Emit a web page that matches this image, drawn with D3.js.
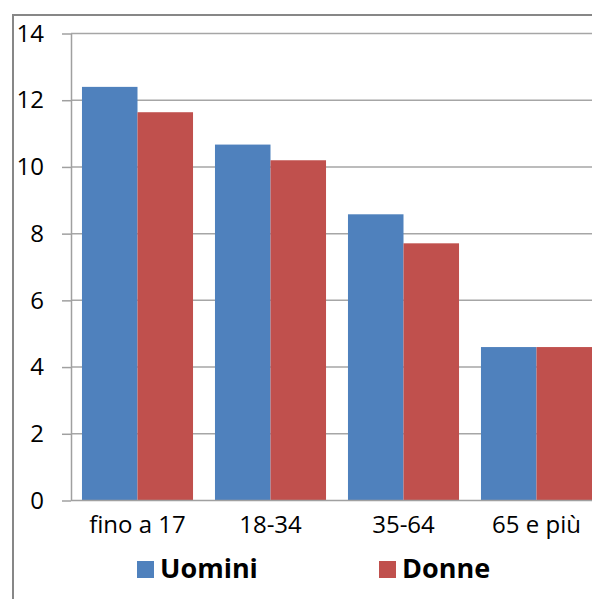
<!DOCTYPE html>
<html>
<head>
<meta charset="utf-8">
<script src="https://cdn.jsdelivr.net/npm/d3@7"></script>
<style>
  body { margin: 0; background: #fff; }
  svg { display: block; font-family: "Open Sans", sans-serif; }
</style>
</head>
<body>
<div id="chart"></div>
<script>
const categories = ["fino a 17", "18-34", "35-64", "65 e più"];
const seriesNames = ["Uomini", "Donne"];
const uomini = [12.4, 10.67, 8.58, 4.6];
const donne = [11.64, 10.2, 7.71, 4.6];
const yTicks = [0, 2, 4, 6, 8, 10, 12, 14];

const colors = { Uomini: "#4f81bd", Donne: "#c0504d" };

const W = 592, H = 599;
const plot = { left: 71, top: 33.5, width: 532, height: 467 };

const svg = d3.select("#chart")
  .append("svg")
  .attr("width", W)
  .attr("height", H);

// chart border (cut off at right and bottom)
svg.append("rect")
  .attr("x", 13).attr("y", 15)
  .attr("width", 640).attr("height", 640)
  .attr("fill", "none")
  .attr("stroke", "#878787")
  .attr("stroke-width", 2);

const g = svg.append("g")
  .attr("transform", `translate(${plot.left},${plot.top})`);

const x = d3.scaleBand()
  .domain(categories)
  .range([0, plot.width])
  .paddingInner(0.165)
  .paddingOuter(0.0825);

const xs = d3.scaleBand()
  .domain(seriesNames)
  .range([0, x.bandwidth()]);

const y = d3.scaleLinear()
  .domain([0, 14])
  .range([plot.height, 0]);

// gridlines
g.append("g")
  .selectAll("line")
  .data(yTicks.slice(1))
  .join("line")
  .attr("x1", 0).attr("x2", plot.width + 20)
  .attr("y1", d => y(d)).attr("y2", d => y(d))
  .attr("stroke", "#a6a6a6")
  .attr("stroke-width", 1.5);

// y axis
const yAxis = g.append("g")
  .call(d3.axisLeft(y).tickValues(yTicks).tickSize(9).tickPadding(18).tickSizeOuter(0));
yAxis.select(".domain").attr("stroke", "#a0a0a0").attr("stroke-width", 1.5);
yAxis.selectAll(".tick line").attr("stroke", "#a0a0a0").attr("stroke-width", 1.5);
yAxis.selectAll("text")
  .attr("font-size", 24)
  .attr("fill", "#000")
  .attr("font-family", "Open Sans, sans-serif");

const rows = categories.map((c, i) => ({ cat: c, Uomini: uomini[i], Donne: donne[i] }));

// bars
g.append("g")
  .selectAll("g")
  .data(rows)
  .join("g")
  .attr("transform", d => `translate(${x(d.cat)},0)`)
  .selectAll("rect")
  .data(d => seriesNames.map(s => ({ key: s, value: d[s] })))
  .join("rect")
  .attr("x", d => xs(d.key))
  .attr("y", d => y(d.value))
  .attr("width", xs.bandwidth())
  .attr("height", d => plot.height - y(d.value))
  .attr("fill", d => colors[d.key]);

// x axis
const xAxis = g.append("g")
  .attr("transform", `translate(0,${plot.height})`)
  .call(d3.axisBottom(x).tickSize(0).tickPadding(15));
xAxis.select(".domain")
  .attr("d", `M0,0H${plot.width + 20}`)
  .attr("stroke", "#a0a0a0").attr("stroke-width", 1.5);
xAxis.selectAll("text")
  .attr("font-size", 24)
  .attr("fill", "#000")
  .attr("font-family", "Open Sans, sans-serif");

// legend
const legendItems = [
  { name: "Uomini", x: 137 },
  { name: "Donne", x: 379 }
];
const legend = svg.append("g");
const li = legend.selectAll("g")
  .data(legendItems)
  .join("g")
  .attr("transform", d => `translate(${d.x},561)`);
li.append("rect")
  .attr("width", 17).attr("height", 17)
  .attr("fill", d => colors[d.name]);
li.append("text")
  .attr("x", 23).attr("y", 17)
  .attr("font-size", 27)
  .attr("font-weight", "bold")
  .attr("fill", "#000")
  .text(d => d.name);
</script>
</body>
</html>
